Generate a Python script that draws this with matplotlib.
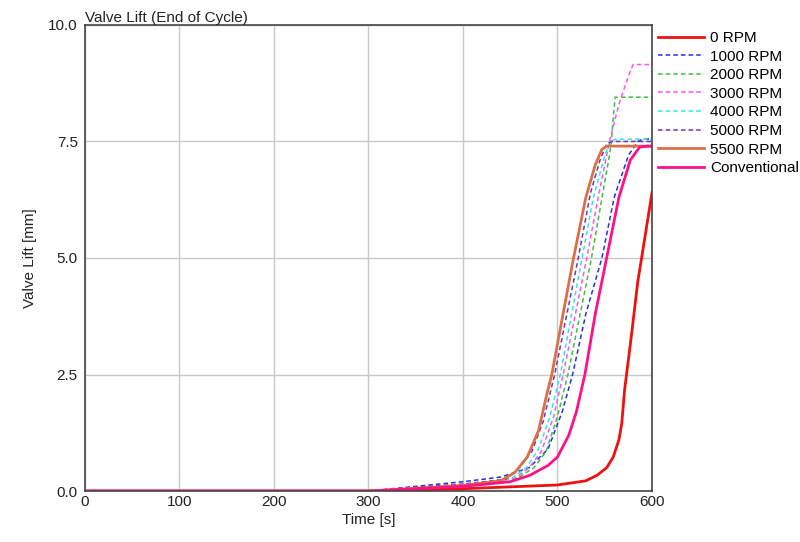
import matplotlib
matplotlib.use("Agg")
import matplotlib.pyplot as plt

plt.rcParams['font.family'] = ['Liberation Sans', 'DejaVu Sans']

# Data (time [s], valve lift [mm])
t_0 = [0, 300, 400, 500, 530, 542, 552, 559, 565, 568, 571, 578, 585, 589, 600]
v_0 = [0, 0, 0.05, 0.13, 0.22, 0.34, 0.5, 0.73, 1.1, 1.45, 2.17, 3.3, 4.5, 5.0, 6.4]

t_1000 = [0, 300, 350, 400, 440, 470, 490, 505, 516, 530, 547, 560, 575, 585, 590, 600]
v_1000 = [0, 0, 0.1, 0.2, 0.3, 0.5, 0.9, 1.7, 2.5, 3.8, 5.0, 6.3, 7.2, 7.5, 7.55, 7.55]

t_2000 = [0, 300, 400, 458, 475, 488, 500, 511, 524, 536, 548, 555, 557, 559, 561, 600]
v_2000 = [0, 0, 0.14, 0.28, 0.5, 0.85, 1.6, 2.5, 3.8, 5.0, 6.4, 7.2, 7.5, 8.0, 8.45, 8.45]

t_3000 = [0, 300, 400, 455, 470, 483, 496, 506, 519, 531, 543, 555, 565, 575, 580, 600]
v_3000 = [0, 0, 0.14, 0.27, 0.5, 0.85, 1.6, 2.5, 3.8, 5.0, 6.3, 7.5, 8.3, 8.9, 9.15, 9.15]

t_4000 = [0, 300, 400, 450, 467, 480, 492, 503, 515, 526, 538, 550, 556, 562, 600]
v_4000 = [0, 0, 0.14, 0.25, 0.5, 0.9, 1.6, 2.5, 3.8, 5.0, 6.3, 7.2, 7.5, 7.55, 7.55]

t_5000 = [0, 300, 350, 400, 445, 460, 473, 485, 497, 510, 522, 535, 545, 552, 558, 600]
v_5000 = [0, 0, 0.08, 0.15, 0.25, 0.5, 0.85, 1.5, 2.5, 3.8, 5.0, 6.4, 7.1, 7.45, 7.5, 7.5]

t_5500 = [0, 300, 350, 400, 440, 455, 468, 480, 489, 494, 505, 517, 530, 540, 547, 552, 600]
v_5500 = [0, 0, 0.06, 0.12, 0.22, 0.4, 0.73, 1.3, 2.1, 2.5, 3.7, 5.0, 6.3, 7.0, 7.33, 7.4, 7.4]

t_conv = [0, 300, 400, 450, 471, 490, 500, 512, 520, 529, 540, 552, 565, 577, 587, 595, 600]
v_conv = [0, 0, 0.1, 0.2, 0.34, 0.55, 0.73, 1.2, 1.7, 2.5, 3.8, 5.0, 6.3, 7.1, 7.38, 7.4, 7.4]

labels = ['0 RPM', '1000 RPM', '2000 RPM', '3000 RPM', '4000 RPM', '5000 RPM', '5500 RPM', 'Conventional']
x_ticks = [0, 100, 200, 300, 400, 500, 600]
y_ticks = [0.0, 2.5, 5.0, 7.5, 10.0]

series = [
    (t_0, v_0, '#ee1111', '-', 2.0),
    (t_1000, v_1000, '#2233dd', '--', 1.1),
    (t_2000, v_2000, '#44bb44', '--', 1.1),
    (t_3000, v_3000, '#ff55ee', '--', 1.1),
    (t_4000, v_4000, '#33e6e6', '--', 1.1),
    (t_5000, v_5000, '#7733aa', '--', 1.1),
    (t_5500, v_5500, '#d97048', '-', 2.0),
    (t_conv, v_conv, '#ff1188', '-', 2.0),
]

FS = 11

fig = plt.figure(figsize=(8.0, 5.42), dpi=100)
ax = fig.add_axes([0.106, 0.094, 0.709, 0.860])

for (t, v, c, ls, lw), lab in zip(series, labels):
    ax.plot(t, v, color=c, linestyle=ls, linewidth=lw, label=lab,
            dashes=(3, 2) if ls == '--' else (None, None))

ax.set_xlim(0, 600)
ax.set_ylim(0, 10)
ax.set_xticks(x_ticks)
ax.set_xticklabels([str(x) for x in x_ticks])
ax.set_yticks(y_ticks)
ax.set_yticklabels([f'{y:.1f}' for y in y_ticks])
ax.tick_params(axis='x', length=0, labelsize=FS, colors='#222222', pad=3)
ax.tick_params(axis='y', length=0, labelsize=FS, colors='#222222', pad=5)
ax.grid(True, color='#c8c8c8', linewidth=1.0)
ax.set_axisbelow(True)
for s in ax.spines.values():
    s.set_color('#444444')
    s.set_linewidth(1.2)

ax.set_xlabel('Time [s]', fontsize=FS, color='#222222', labelpad=3)
ax.set_ylabel('Valve Lift [mm]', fontsize=FS, color='#222222', labelpad=8)
ax.set_title('Valve Lift (End of Cycle)', fontsize=FS, loc='left', pad=2, color='#222222')

ax.legend(loc='upper left', bbox_to_anchor=(1.0, 1.0), frameon=False,
          fontsize=FS, handlelength=3.0, handletextpad=0.4,
          labelspacing=0.3, borderaxespad=0.3, borderpad=0.1)

fig.savefig('out.png', dpi=100)
